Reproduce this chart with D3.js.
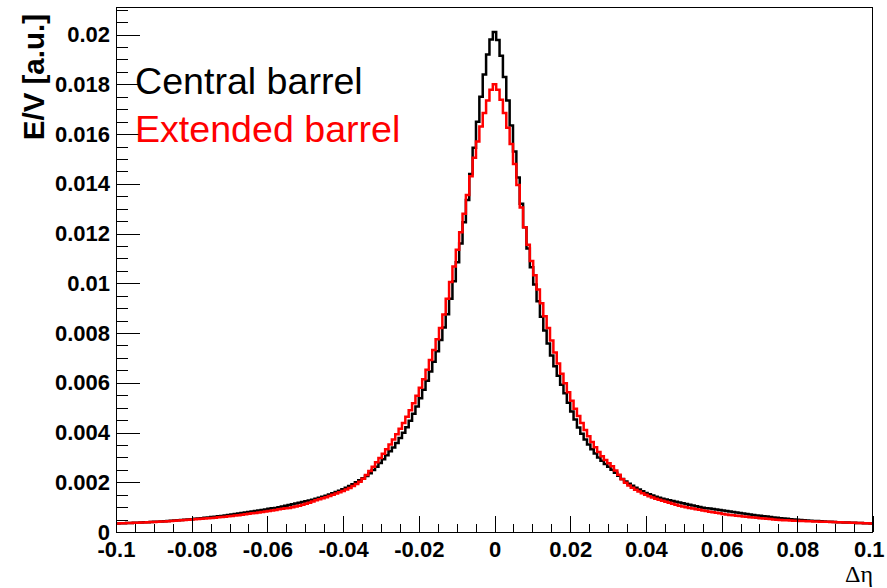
<!DOCTYPE html>
<html>
<head>
<meta charset="utf-8">
<script src="https://cdn.jsdelivr.net/npm/d3@7"></script>
<style>
  html, body { margin: 0; padding: 0; background: #fff; }
  svg { display: block; }
  .tick text { font-family: "Liberation Sans", Arial, Helvetica, sans-serif; font-weight: bold; font-size: 22px; fill: #000; }
</style>
</head>
<body>
<svg id="chart" width="887" height="588"></svg>
<script>
// Δη histogram range and binning (225 bins from -0.1 to 0.1)
const etaMin = -0.1;
const etaMax = 0.1;
const nBins = 225;

// Central barrel, bin contents from left (-0.1) to right (+0.1)
const centralBarrel = [
  0.00034,0.00035,0.00035,0.00036,0.00036,0.00037,0.00037,0.00038,0.00039,0.00039,
  0.00040,0.00041,0.00041,0.00042,0.00043,0.00044,0.00045,0.00046,0.00047,0.00048,
  0.00049,0.00050,0.00051,0.00053,0.00054,0.00055,0.00057,0.00058,0.00060,0.00061,
  0.00063,0.00064,0.00066,0.00068,0.00070,0.00072,0.00074,0.00076,0.00078,0.00080,
  0.00082,0.00084,0.00086,0.00088,0.00090,0.00093,0.00095,0.00097,0.00100,0.00103,
  0.00106,0.00109,0.00112,0.00115,0.00118,0.00121,0.00124,0.00127,0.00130,0.00134,
  0.00138,0.00142,0.00146,0.00151,0.00156,0.00161,0.00166,0.00172,0.00178,0.00185,
  0.00192,0.00200,0.00208,0.00216,0.00225,0.00236,0.00249,0.00262,0.00277,0.00293,
  0.00309,0.00325,0.00340,0.00358,0.00378,0.00399,0.00421,0.00447,0.00475,0.00505,
  0.00538,0.00572,0.00608,0.00645,0.00685,0.00727,0.00772,0.00822,0.00876,0.00938,
  0.01008,0.01085,0.01160,0.01245,0.01335,0.01440,0.01545,0.01650,0.01750,0.01840,
  0.01920,0.01980,
  0.02010,
  0.01978,0.01915,0.01830,0.01735,0.01635,0.01530,0.01425,0.01320,0.01225,0.01140,
  0.01065,0.00995,0.00928,0.00866,0.00810,0.00758,0.00710,0.00666,0.00628,0.00592,
  0.00558,0.00520,0.00485,0.00452,0.00420,0.00395,0.00372,0.00352,0.00333,0.00316,
  0.00300,0.00286,0.00273,0.00262,0.00250,0.00238,0.00226,0.00213,0.00203,0.00194,
  0.00186,0.00178,0.00171,0.00164,0.00157,0.00152,0.00147,0.00142,0.00138,0.00134,
  0.00131,0.00128,0.00125,0.00122,0.00119,0.00116,0.00113,0.00110,0.00107,0.00104,
  0.00101,0.00098,0.00096,0.00094,0.00092,0.00090,0.00088,0.00086,0.00084,0.00082,
  0.00080,0.00078,0.00076,0.00074,0.00072,0.00070,0.00068,0.00066,0.00065,0.00063,
  0.00062,0.00060,0.00058,0.00057,0.00055,0.00054,0.00053,0.00051,0.00050,0.00049,
  0.00048,0.00047,0.00046,0.00045,0.00044,0.00044,0.00043,0.00042,0.00041,0.00041,
  0.00040,0.00039,0.00039,0.00038,0.00038,0.00037,0.00037,0.00036,0.00036,0.00035,
  0.00035,0.00034
];

// Extended barrel, bin contents from left (-0.1) to right (+0.1)
const extendedBarrel = [
  0.00034,0.00035,0.00035,0.00036,0.00036,0.00037,0.00037,0.00038,0.00038,0.00039,
  0.00040,0.00040,0.00041,0.00042,0.00042,0.00043,0.00044,0.00045,0.00046,0.00047,
  0.00048,0.00049,0.00050,0.00051,0.00052,0.00053,0.00054,0.00055,0.00056,0.00057,
  0.00059,0.00060,0.00061,0.00063,0.00064,0.00066,0.00067,0.00069,0.00071,0.00073,
  0.00075,0.00076,0.00078,0.00080,0.00082,0.00084,0.00086,0.00088,0.00091,0.00093,
  0.00095,0.00097,0.00100,0.00103,0.00106,0.00110,0.00114,0.00118,0.00123,0.00128,
  0.00132,0.00136,0.00140,0.00145,0.00150,0.00155,0.00160,0.00165,0.00171,0.00177,
  0.00185,0.00193,0.00202,0.00214,0.00229,0.00245,0.00262,0.00280,0.00298,0.00315,
  0.00333,0.00352,0.00372,0.00393,0.00415,0.00438,0.00463,0.00490,0.00518,0.00548,
  0.00580,0.00614,0.00652,0.00692,0.00732,0.00775,0.00820,0.00875,0.00938,0.01005,
  0.01068,0.01135,0.01205,0.01280,0.01355,0.01430,0.01505,0.01570,0.01630,0.01685,
  0.01735,0.01778,
  0.01800,
  0.01778,0.01738,0.01685,0.01625,0.01560,0.01480,0.01395,0.01305,0.01225,0.01155,
  0.01090,0.01032,0.00975,0.00920,0.00868,0.00820,0.00770,0.00722,0.00678,0.00636,
  0.00598,0.00562,0.00528,0.00496,0.00466,0.00438,0.00410,0.00385,0.00362,0.00341,
  0.00322,0.00305,0.00290,0.00276,0.00264,0.00247,0.00230,0.00212,0.00198,0.00187,
  0.00178,0.00170,0.00163,0.00156,0.00150,0.00144,0.00139,0.00134,0.00130,0.00126,
  0.00122,0.00118,0.00114,0.00110,0.00106,0.00103,0.00100,0.00097,0.00094,0.00091,
  0.00089,0.00086,0.00084,0.00081,0.00079,0.00077,0.00075,0.00072,0.00070,0.00068,
  0.00067,0.00065,0.00064,0.00062,0.00061,0.00059,0.00058,0.00057,0.00055,0.00054,
  0.00053,0.00052,0.00050,0.00049,0.00048,0.00047,0.00047,0.00046,0.00045,0.00045,
  0.00044,0.00044,0.00043,0.00043,0.00042,0.00042,0.00041,0.00041,0.00041,0.00040,
  0.00040,0.00039,0.00039,0.00038,0.00038,0.00037,0.00037,0.00036,0.00036,0.00035,
  0.00035,0.00034
];

// Axis ticks and labels
const xTickValues = [-0.1, -0.08, -0.06, -0.04, -0.02, 0, 0.02, 0.04, 0.06, 0.08, 0.1];
const xTickLabels = ["-0.1", "-0.08", "-0.06", "-0.04", "-0.02", "0", "0.02", "0.04", "0.06", "0.08", "0.1"];
const yTickValues = [0, 0.002, 0.004, 0.006, 0.008, 0.01, 0.012, 0.014, 0.016, 0.018, 0.02];
const yTickLabels = ["0", "0.002", "0.004", "0.006", "0.008", "0.01", "0.012", "0.014", "0.016", "0.018", "0.02"];
const yMax = 0.02111;

const seriesNames = ["Central barrel", "Extended barrel"];
const seriesColors = ["#000000", "#ff0000"];

// Frame geometry
const frame = { left: 116, right: 873, top: 7, bottom: 532 };

const svg = d3.select("#chart");

const x = d3.scaleLinear().domain([etaMin, etaMax]).range([frame.left, frame.right]);
const y = d3.scaleLinear().domain([0, yMax]).range([frame.bottom, frame.top]);

const binWidth = (etaMax - etaMin) / nBins;
const xMinor = d3.range(0, 41).map(i => etaMin + i * 0.005);
const yMinor = d3.range(0, 43).map(i => i * 0.0005);

// Clip the histograms to the frame
svg.append("defs").append("clipPath").attr("id", "frameClip")
  .append("rect")
  .attr("x", frame.left).attr("y", frame.top)
  .attr("width", frame.right - frame.left).attr("height", frame.bottom - frame.top);

// Histogram outline as steps
function stepPoints(values) {
  const pts = values.map((v, i) => [etaMin + i * binWidth, v]);
  pts.push([etaMax, values[values.length - 1]]);
  return pts;
}
const line = d3.line()
  .x(d => x(d[0]))
  .y(d => y(d[1]))
  .curve(d3.curveStepAfter);

const histGroup = svg.append("g").attr("clip-path", "url(#frameClip)");
[centralBarrel, extendedBarrel].forEach((vals, i) => {
  histGroup.append("path")
    .attr("d", line(stepPoints(vals)))
    .attr("fill", "none")
    .attr("stroke", seriesColors[i])
    .attr("stroke-width", 2.5)
    .attr("stroke-linejoin", "miter");
});

// Minor ticks
svg.append("g")
  .attr("transform", `translate(0,${frame.bottom})`)
  .call(d3.axisBottom(x).tickValues(xMinor).tickSize(-8).tickSizeOuter(0).tickFormat(""))
  .call(g => g.select(".domain").remove())
  .attr("shape-rendering", "crispEdges");
svg.append("g")
  .attr("transform", `translate(${frame.left},0)`)
  .call(d3.axisLeft(y).tickValues(yMinor).tickSize(-12).tickSizeOuter(0).tickFormat(""))
  .call(g => g.select(".domain").remove())
  .attr("shape-rendering", "crispEdges");

// Major ticks with labels
const xAxis = svg.append("g")
  .attr("transform", `translate(0,${frame.bottom})`)
  .call(d3.axisBottom(x).tickValues(xTickValues).tickSize(-16).tickSizeOuter(0)
    .tickPadding(9.5).tickFormat((d, i) => xTickLabels[i]))
  .call(g => g.select(".domain").remove());
xAxis.selectAll("line").attr("shape-rendering", "crispEdges");
// keep the last label inside the canvas
xAxis.selectAll(".tick text")
  .filter((d, i) => i === xTickValues.length - 1)
  .attr("text-anchor", "end")
  .attr("x", 884 - frame.right);

const yAxis = svg.append("g")
  .attr("transform", `translate(${frame.left},0)`)
  .call(d3.axisLeft(y).tickValues(yTickValues).tickSize(-24).tickSizeOuter(0)
    .tickPadding(6).tickFormat((d, i) => yTickLabels[i]))
  .call(g => g.select(".domain").remove());
yAxis.selectAll("line").attr("shape-rendering", "crispEdges");

svg.selectAll(".tick line").attr("stroke", "#000").attr("stroke-width", 1);

// Frame box
svg.append("rect")
  .attr("x", frame.left + 0.5).attr("y", frame.top + 0.5)
  .attr("width", frame.right - frame.left - 1).attr("height", frame.bottom - frame.top)
  .attr("fill", "none").attr("stroke", "#000").attr("stroke-width", 1)
  .attr("shape-rendering", "crispEdges");

// Axis titles
svg.append("text")
  .attr("transform", `translate(44,14) rotate(-90)`)
  .attr("text-anchor", "end")
  .attr("font-family", "'Liberation Sans', Arial, Helvetica, sans-serif")
  .attr("font-weight", "bold")
  .attr("font-size", 29.5)
  .text("E/V [a.u.]");

svg.append("text")
  .attr("x", frame.right).attr("y", 582)
  .attr("text-anchor", "end")
  .attr("font-family", "'Liberation Serif', 'Times New Roman', serif")
  .attr("font-size", 24)
  .text("Δη");

// Legend text
seriesNames.forEach((name, i) => {
  svg.append("text")
    .attr("x", 135).attr("y", 94 + i * 48)
    .attr("font-family", "'Liberation Sans', Arial, Helvetica, sans-serif")
    .attr("font-size", 37.6)
    .attr("fill", seriesColors[i])
    .text(name);
});
</script>
</body>
</html>
